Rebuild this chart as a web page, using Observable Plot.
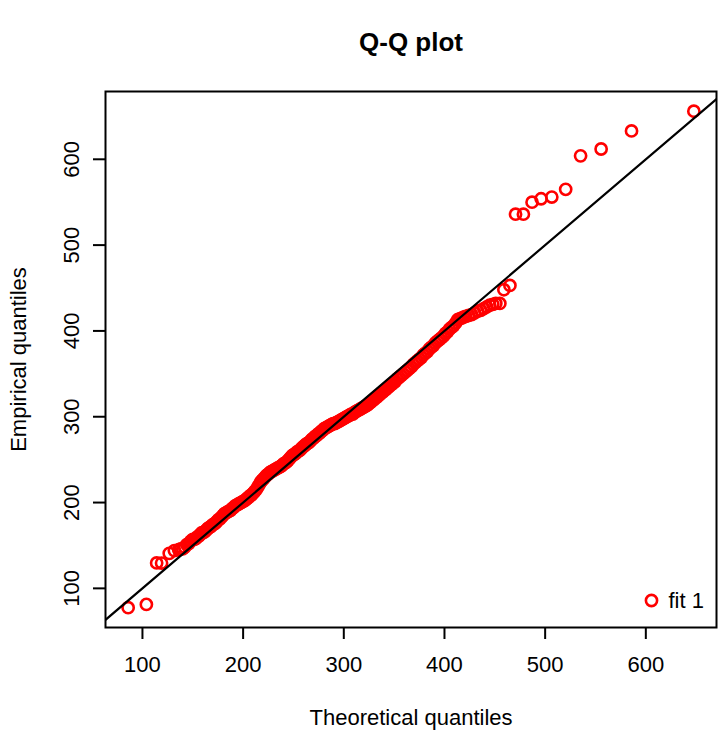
<!DOCTYPE html>
<html>
<head>
<meta charset="utf-8">
<script src="https://cdn.jsdelivr.net/npm/d3@7"></script>
<script src="https://cdn.jsdelivr.net/npm/@observablehq/plot@0.6"></script>
<style>
  html, body { margin: 0; padding: 0; background: #fff; }
  svg { display: block; }
</style>
</head>
<body>
<div id="chart"></div>
<script>
const title = "Q-Q plot";
const xLabel = "Theoretical quantiles";
const yLabel = "Empirical quantiles";
const legendLabel = "fit 1";
const xTicks = [100, 200, 300, 400, 500, 600];
const yTicks = [100, 200, 300, 400, 500, 600];

const theoretical = [
  85.8, 103.9, 114.1, 119, 126.6, 131.7, 136, 138, 140, 142,
  144, 146, 148, 150, 151.5, 153, 154.5, 156, 157.5, 159,
  160.5, 162, 163.5, 165, 166.5, 168, 169.5, 171, 172.5, 174,
  175.5, 177, 178.5, 180, 181.5, 183, 184.5, 186, 187.5, 189,
  190.5, 192, 193.5, 195, 196.5, 198, 199.5, 201, 202.5, 204,
  205.5, 207, 208.5, 210, 211.5, 213, 214.5, 216, 217.5, 219,
  220.5, 222, 223.5, 225, 226.5, 228, 229.5, 231, 232.5, 234,
  235.5, 237, 238.5, 240, 241.5, 243, 244.5, 246, 247.5, 249,
  250.5, 252, 253.5, 255, 256.5, 258, 259.5, 261, 262.5, 264,
  265.5, 267, 268.5, 270, 271.5, 273, 274.5, 276, 277.5, 279,
  280.5, 282, 283.5, 285, 286.5, 288, 289.5, 291, 292.5, 294,
  295.5, 297, 298.5, 300, 301.5, 303, 304.5, 306, 307.5, 309,
  310.5, 312, 313.5, 315, 316.5, 318, 319.5, 321, 322.5, 324,
  325.5, 327, 328.5, 330, 331.5, 333, 334.5, 336, 337.5, 339,
  340.5, 342, 343.5, 345, 346.5, 348, 349.5, 351, 353, 355,
  357, 359, 361, 363, 365, 367, 369, 371, 373, 375,
  377, 379, 381, 383, 385, 387, 389, 391, 393, 395,
  397, 399, 401, 403, 405, 407, 409, 411, 413, 415,
  417, 419, 421, 424, 427, 430, 433, 436, 439, 442,
  445, 448, 451, 455, 459, 465, 470.6, 478.4, 487, 496,
  506.6, 520.4, 535.2, 555.6, 585.8, 647.7
];
const empirical = [
  77.5, 81.3, 129.6, 129.5, 140.8, 144, 145, 146, 146, 148,
  151, 152, 155, 157, 157, 158, 160, 161, 163, 165,
  165, 166, 168, 170, 171, 172, 174, 175, 176, 178,
  180, 181, 183, 185, 187, 188, 189, 190, 191, 193,
  194, 196, 197, 198, 199, 200, 201, 202, 203, 205,
  206, 208, 209, 211, 213, 215, 218, 221, 224, 226,
  228, 230, 232, 233, 235, 236, 237, 238, 239, 240,
  241, 242, 243, 245, 246, 247, 249, 251, 253, 255,
  256, 257, 259, 260, 261, 263, 265, 266, 268, 269,
  270, 272, 274, 275, 277, 278, 280, 281, 283, 284,
  286, 287, 288, 289, 290, 291, 292, 292, 293, 294,
  295, 296, 297, 298, 299, 300, 301, 302, 303, 303,
  305, 306, 307, 308, 309, 310, 311, 312, 313, 314,
  316, 317, 319, 320, 322, 323, 325, 326, 328, 329,
  331, 332, 334, 335, 337, 338, 340, 341, 344, 346,
  348, 350, 352, 354, 356, 358, 361, 363, 365, 367,
  369, 372, 374, 376, 379, 381, 383, 386, 388, 390,
  392, 394, 397, 399, 402, 404, 406, 409, 413, 414,
  415, 416, 417, 418, 419, 421, 423, 424, 426, 428,
  430, 431, 432, 432, 448, 453, 536, 536, 550, 554,
  556, 565, 604, 612, 633, 656
];

const xDomain = [63.3, 670.2];
const yDomain = [54.4, 679.0];

const points = theoretical.map((t, i) => ({t, e: empirical[i]}));
const refLine = xDomain.map(v => ({t: v, e: v}));

const font = "'Liberation Sans', Arial, Helvetica, sans-serif";

const chart = Plot.plot({
  width: 719,
  height: 740,
  marginLeft: 105,
  marginRight: 3,
  marginTop: 91,
  marginBottom: 113,
  style: {fontFamily: font, fontSize: "22px", background: "#fff", color: "#000"},
  x: {domain: xDomain, label: null},
  y: {domain: yDomain, label: null},
  marks: [
    Plot.dot(points, {x: "t", y: "e", r: 5.6, stroke: "#ff0000", strokeWidth: 2.6, fill: "none"}),
    Plot.line(refLine, {x: "t", y: "e", stroke: "#000", strokeWidth: 2.2, clip: true}),
    Plot.frame({stroke: "#000", strokeWidth: 2}),
    Plot.axisX({ticks: xTicks, tickSize: 12, tickFormat: () => "", label: null, strokeWidth: 2}),
    Plot.axisY({ticks: yTicks, tickSize: 12, tickFormat: () => "", label: null, strokeWidth: 2}),
    Plot.text(xTicks, {x: d => d, frameAnchor: "bottom", dy: 37, text: d => String(d), fontSize: 22, textAnchor: "middle", lineAnchor: "middle"}),
    Plot.text(yTicks, {y: d => d, frameAnchor: "left", dx: -34, rotate: -90, text: d => String(d), fontSize: 22, textAnchor: "middle", lineAnchor: "middle"}),
    Plot.text([xLabel], {frameAnchor: "bottom", dy: 90, text: d => d, fontSize: 22, textAnchor: "middle", lineAnchor: "middle"}),
    Plot.text([yLabel], {frameAnchor: "left", dx: -87, rotate: -90, text: d => d, fontSize: 22, textAnchor: "middle", lineAnchor: "middle"}),
    Plot.text([title], {frameAnchor: "top", dy: -49, text: d => d, fontSize: 26, fontWeight: "bold", textAnchor: "middle", lineAnchor: "middle"}),
    Plot.dot([legendLabel], {frameAnchor: "bottom-right", dx: -65, dy: -27, r: 5.6, stroke: "#ff0000", strokeWidth: 2.6, fill: "none"}),
    Plot.text([legendLabel], {frameAnchor: "bottom-right", dx: -48, dy: -27, text: d => d, textAnchor: "start", fontSize: 22, lineAnchor: "middle"})
  ]
});

document.getElementById("chart").appendChild(chart);
</script>
</body>
</html>
